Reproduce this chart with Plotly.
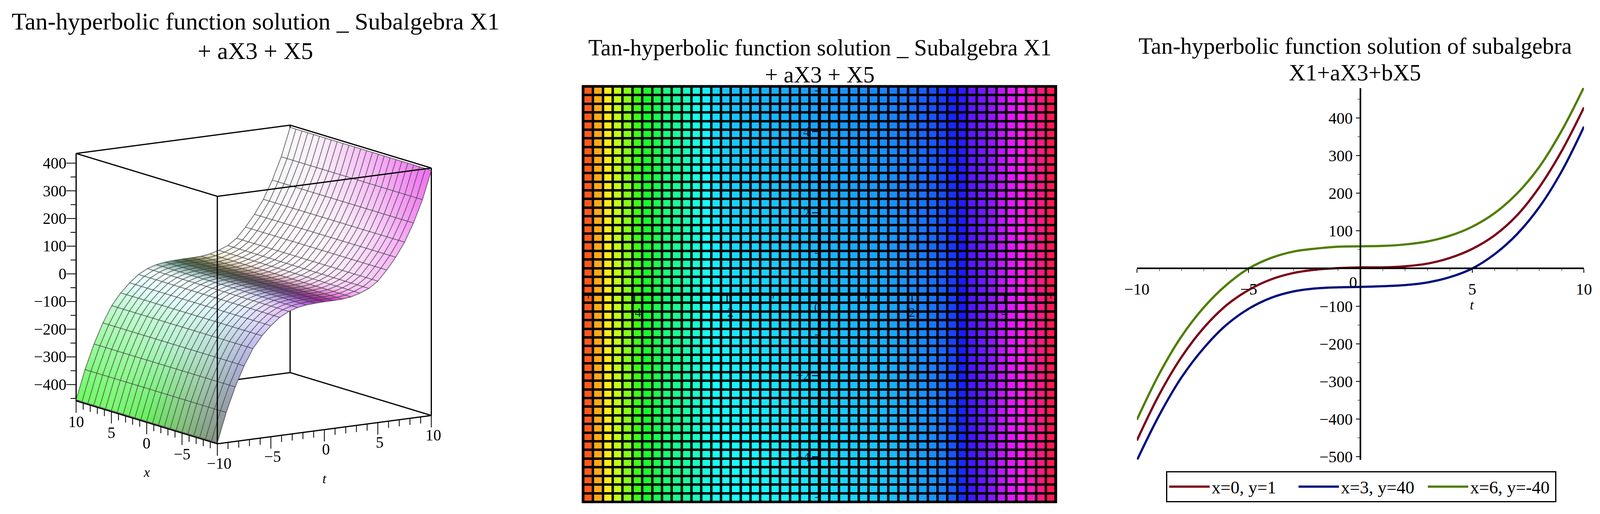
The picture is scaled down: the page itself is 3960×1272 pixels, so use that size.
import colorsys
import numpy as np
import plotly.graph_objects as go

W, H = 3960, 1272
SERIF = "Liberation Serif"

# ---------- right panel: curves ----------
t_curve = [-10,-9,-8,-7,-6,-5,-4,-3,-2,-1,0,1,2,3,4,5,6,7,8,9,10]
red_xy = [-457,-335,-235,-157,-98,-57,-29,-12,-3,1,3,3,6,13,28,52,88,141,216,312,428]
blue_xy = [-510,-390,-289,-211,-150,-107,-78,-61,-53,-50,-49,-47,-44,-37,-23,0,38,91,163,258,377]
green_xy = [-402,-280,-180,-103,-44,0,28,45,53,58,59,60,64,72,87,111,147,199,270,366,482]
legend_names = ["x=0, y=1", "x=3, y=40", "x=6, y=-40"]

# ---------- left panel: 25x25 surface, z depends on t only ----------
t_grid = [-10,-9.17,-8.33,-7.5,-6.67,-5.83,-5,-4.17,-3.33,-2.5,-1.67,-0.83,0,
          0.83,1.67,2.5,3.33,4.17,5,5.83,6.67,7.5,8.33,9.17,10]
x_grid = t_grid
z_profile = [-455,-350,-262,-190,-132,-90,-58,-32,-15,-5,0,2,3,3,4,8,17,30,52,88,130,180,245,325,427]
z_lo, z_hi = -459, 435

# colours read from the surface: rows by t, columns by x
col_t = [-10,-7.5,-5,-3.3,-2,-1,0,1,2,3.3,5,7.5,10]
col_x = [-10,-5,0,5,10]
col_table = [
 [(135,145,135),(130,190,120),(100,240,90),(120,250,110),(110,250,100)],
 [(175,175,222),(180,220,205),(185,242,210),(180,250,192),(175,250,185)],
 [(222,205,255),(220,238,255),(230,252,255),(230,255,255),(228,255,252)],
 [(235,190,255),(238,238,255),(245,253,255),(245,255,255),(245,255,255)],
 [(210,130,250),(190,190,240),(210,225,240),(170,210,210),(150,195,185)],
 [(170,70,210),(130,100,170),(100,110,120),(90,120,110),(90,130,110)],
 [(170,40,170),(110,60,130),(90,80,90),(90,100,60),(80,110,70)],
 [(210,60,190),(170,90,150),(150,110,120),(150,130,110),(130,140,90)],
 [(245,120,230),(240,170,220),(240,200,210),(240,220,200),(230,230,180)],
 [(250,190,250),(255,225,255),(255,245,255),(255,250,250),(255,250,240)],
 [(250,200,250),(255,232,255),(255,248,255),(255,252,252),(255,254,254)],
 [(248,170,248),(250,220,250),(253,240,253),(252,248,252),(250,250,250)],
 [(240,110,240),(245,150,245),(248,195,248),(250,235,250),(250,250,250)],
]

# ---------- centre panel: hue of each of the 48 columns, and how far it drifts top to bottom ----------
column_hue = [17,38,55,75,91,110,125,134,146,153,160,170,179,185,188,190,191,192,193,194,195,196,197,198,
              199,200,201,202,203,204,205,207,209,212,215,219,224,232,242,255,262,270,283,292,302,318,332,345]
drift_col = [0, 7, 14, 36, 42, 47]
drift_weight = [0, 0, 1, 1, 0, 0]
drift_bottom, drift_top = -11, 7
n_cells = len(column_hue)
mid_ticks = [-4,-2,2,4]
mid_minor = [-5,-3,-1,1,3,5]

EYE = (-0.5385, -0.816, 0.20)
EYE_NORM = 1.6
SCENE_ZOOM = 1.225
Z_STRETCH = 0.985
PAD_T, PAD_Z = 2.0, 50.0


def fx(px):
    return px / W

def fy(py):
    return 1 - py / H


fig = go.Figure()

# ---------- surface ----------
tt = np.array(t_grid)
xx = np.array(x_grid)
T, X = np.meshgrid(tt, xx, indexing="ij")
Z = np.tile(np.array(z_profile, float)[:, None], (1, len(xx)))
tab = np.array(col_table, float)
ax_t = np.arange(len(col_t))
ti = np.interp(tt, col_t, ax_t)
xi = np.interp(xx, col_x, np.arange(len(col_x)))
RGB = np.zeros((len(tt), len(xx), 3))
for c in range(3):
    by_t = np.array([np.interp(ti, ax_t, tab[:, q, c]) for q in range(len(col_x))]).T
    RGB[:, :, c] = np.array([np.interp(xi, np.arange(len(col_x)), r) for r in by_t])
vcol = ["rgb(%d,%d,%d)" % tuple(v) for v in RGB.reshape(-1, 3)]
nt, nx = len(tt), len(xx)
ii, jj, kk = [], [], []
for a in range(nt - 1):
    for b in range(nx - 1):
        p = a * nx + b
        ii += [p, p + 1]
        jj += [p + 1, p + nx + 1]
        kk += [p + nx, p + nx]
fig.add_trace(go.Mesh3d(
    x=T.ravel(), y=X.ravel(), z=Z.ravel(), i=ii, j=jj, k=kk, vertexcolor=vcol,
    lighting=dict(ambient=1, diffuse=0, specular=0, roughness=1, fresnel=0),
    flatshading=False, hoverinfo="skip", showscale=False, scene="scene"))


def wires(A, B, C):
    xs, ys, zs = [], [], []
    for r in range(A.shape[0]):
        xs += list(A[r]) + [None]
        ys += list(B[r]) + [None]
        zs += list(C[r]) + [None]
    return xs, ys, zs


# wires sit a hair in front of the mesh, towards the camera, so the depth test keeps them visible
eps = 0.02
dT, dX, dZ = EYE[0] * eps * 20, EYE[1] * eps * 20, EYE[2] * eps * (z_hi - z_lo)
for arrs in (wires(T + dT, X + dX, Z + dZ), wires((T + dT).T, (X + dX).T, (Z + dZ).T)):
    fig.add_trace(go.Scatter3d(
        x=arrs[0], y=arrs[1], z=arrs[2], mode="lines",
        line=dict(color="rgba(45,45,45,0.72)", width=4),
        hoverinfo="skip", showlegend=False, scene="scene"))

# bounding box: 12 edges
bx, by, bz = [], [], []
c_t, c_x, c_z = (-10, 10), (-10, 10), (z_lo, z_hi)
for a in c_t:
    for b in c_x:
        bx += [a, a, None]; by += [b, b, None]; bz += [c_z[0], c_z[1], None]
for a in c_t:
    for d in c_z:
        bx += [a, a, None]; by += [c_x[0], c_x[1], None]; bz += [d, d, None]
for b in c_x:
    for d in c_z:
        bx += [c_t[0], c_t[1], None]; by += [b, b, None]; bz += [d, d, None]
fig.add_trace(go.Scatter3d(x=bx, y=by, z=bz, mode="lines", line=dict(color="black", width=6),
                           hoverinfo="skip", showlegend=False, scene="scene"))

t_ticks = list(range(-10, 11))
t_major = [-10, -5, 0, 5, 10]
x_labels = [-5, 0, 5, 10]
z_ticks = list(range(-450, 401, 50))
z_major = [-400, -300, -200, -100, 0, 100, 200, 300, 400]

# tick marks: t and x ticks hang straight down from the bottom edges, z ticks run left on screen
kx, ky, kz = [], [], []
for v in t_ticks:
    drop = 43 if v in t_major else 24
    kx += [-10, -10, None, v, v, None]
    ky += [v, v, None, -10, -10, None]
    kz += [z_lo, z_lo - drop, None, z_lo, z_lo - drop, None]
for v in z_ticks:
    reach = 0.76 if v in z_major else 0.44
    kx += [-10, -10 - reach * 0.8347, None]
    ky += [10, 10 + reach * 0.5508, None]
    kz += [v, v, None]
fig.add_trace(go.Scatter3d(x=kx, y=ky, z=kz, mode="lines", line=dict(color="black", width=4),
                           hoverinfo="skip", showlegend=False, scene="scene"))

label3d = dict(family=SERIF, size=39, color="black")
minus = lambda v: str(v).replace("-", "\u2212")
ann3d = []
for v in z_major:
    ann3d.append(dict(x=-10, y=10, z=v, text=minus(v), showarrow=False, xanchor="right", xshift=-22, font=label3d))
for v in x_labels:
    ann3d.append(dict(x=-10, y=v, z=z_lo, text=minus(v), showarrow=False, yshift=-52, font=label3d))
for v in t_major:
    ann3d.append(dict(x=v, y=-10, z=z_lo, text=minus(v), showarrow=False, yshift=-49, xshift=4, font=label3d))
ann3d.append(dict(x=-10, y=0, z=z_lo, text="<i>x</i>", showarrow=False, yshift=-124, font=dict(family=SERIF, size=34)))
ann3d.append(dict(x=0, y=-10, z=z_lo, text="<i>t</i>", showarrow=False, yshift=-122, font=dict(family=SERIF, size=34)))

common = dict(showbackground=False, showgrid=False, zeroline=False, showline=False,
              showspikes=False, ticks="", showticklabels=False, title=dict(text=""))
asp_xy = SCENE_ZOOM * (20 + 2 * PAD_T) / 20
asp_z = SCENE_ZOOM * Z_STRETCH * (z_hi - z_lo + 2 * PAD_Z) / (z_hi - z_lo)
scene = dict(
    domain=dict(x=[fx(70), fx(1124)], y=[fy(1228), fy(180)]),
    aspectmode="manual", aspectratio=dict(x=asp_xy, y=asp_xy, z=asp_z),
    camera=dict(projection=dict(type="orthographic"),
                eye=dict(x=EYE[0] * EYE_NORM, y=EYE[1] * EYE_NORM, z=EYE[2] * EYE_NORM),
                center=dict(x=0, y=0, z=0), up=dict(x=0, y=0, z=1)),
    xaxis=dict(range=[-10 - PAD_T, 10 + PAD_T], **common),
    yaxis=dict(range=[-10 - PAD_T, 10 + PAD_T], **common),
    zaxis=dict(range=[z_lo - PAD_Z, z_hi + PAD_Z], **common),
    bgcolor="white", annotations=ann3d,
)

# ---------- centre heat map ----------
cols = np.arange(n_cells)
weight = np.interp(cols, drift_col, drift_weight)
row_frac = cols / (n_cells - 1)
hue = np.array(column_hue, float)[None, :] + (drift_bottom + (drift_top - drift_bottom) * row_frac)[:, None] * weight[None, :]
cs = []
for h in range(0, 361, 5):
    r, g, b = colorsys.hsv_to_rgb(h / 360, 0.9, 1.0)
    cs.append([h / 360, "rgb(%d,%d,%d)" % (r * 255, g * 255, b * 255)])
cell_x = -5 + 10 * cols / (n_cells - 1)
fig.add_trace(go.Heatmap(z=hue, x=cell_x, y=cell_x, colorscale=cs, zmin=0, zmax=360,
                         xgap=6, ygap=6, showscale=False, hoverinfo="skip", xaxis="x2", yaxis="y2"))

# ---------- right curves ----------
for vals, col, nm in zip((red_xy, blue_xy, green_xy), ("#7b0217", "#000f7d", "#4e7d00"), legend_names):
    fig.add_trace(go.Scatter(x=t_curve, y=vals, mode="lines", name=nm,
                             line=dict(color=col, width=5.5, shape="spline", smoothing=1.0),
                             xaxis="x3", yaxis="y3", hoverinfo="skip"))

R_L, R_R, R_T, R_B = 2811, 3932, 212, 1143
R_YTOP, R_YBOT = 480, -508
y0_px = R_T + (R_YTOP / (R_YTOP - R_YBOT)) * (R_B - R_T)
x0_px = (R_L + R_R) / 2
M_L, M_R, M_T, M_B = 1420, 2610, 206, 1251
mx0 = (M_L + M_R) / 2
my0 = (M_T + M_B) / 2
serif = lambda s: dict(family=SERIF, size=s, color="black")
mid_font = dict(family=SERIF, size=32, color="rgba(0,10,50,0.85)")


def line(text, x, y, size):
    return dict(text=text, xref="paper", yref="paper", x=fx(x), y=fy(y), showarrow=False,
                font=serif(size), xanchor="center", yanchor="middle")


mid_axis = dict(anchor="free", showgrid=False, zeroline=False, showline=True, linecolor="black", linewidth=8,
                range=[-5.13, 5.13], ticks="outside", ticklen=14, tickwidth=3, tickcolor="rgba(0,10,50,0.9)",
                tickvals=mid_ticks, tickfont=mid_font, fixedrange=True,
                minor=dict(tickmode="array", tickvals=mid_minor, ticks="outside", ticklen=7, tickwidth=2,
                           tickcolor="rgba(0,10,50,0.9)"))

fig.update_layout(
    width=W, height=H, margin=dict(l=0, r=0, t=0, b=0), paper_bgcolor="white", plot_bgcolor="white",
    autosize=False, scene=scene, font=dict(family=SERIF, color="black"),
    shapes=[dict(type="rect", xref="x2 domain", yref="y2 domain", x0=0, x1=1, y0=0, y1=1,
                 fillcolor="black", line=dict(color="black", width=2), layer="below")],
    xaxis2=dict(domain=[fx(M_L), fx(M_R)], position=fy(my0), **mid_axis),
    yaxis2=dict(domain=[fy(M_B), fy(M_T)], position=fx(mx0), **mid_axis),
    xaxis3=dict(domain=[fx(R_L), fx(R_R)], range=[-10, 10], anchor="free", position=fy(y0_px),
                showgrid=False, zeroline=False, showline=True, linecolor="black", linewidth=4,
                ticks="outside", ticklen=9, tickwidth=2, tickcolor="black", ticklabelstandoff=6,
                tickvals=[-10, -5, 0, 5, 10], ticktext=["\u221210", "\u22125", "", "5", "10"],
                tickfont=serif(40), fixedrange=True,
                minor=dict(tickmode="array", tickvals=list(range(-10, 11)), ticks="outside", ticklen=5,
                           tickwidth=1, tickcolor="black")),
    yaxis3=dict(domain=[fy(R_B), fy(R_T)], range=[R_YBOT, R_YTOP], anchor="free", position=fx(x0_px),
                showgrid=False, zeroline=False, showline=True, linecolor="black", linewidth=4,
                ticks="outside", ticklen=9, tickwidth=2, tickcolor="black",
                tickvals=[-500, -400, -300, -200, -100, 100, 200, 300, 400],
                tickfont=serif(40), fixedrange=True,
                minor=dict(tickmode="array", tickvals=list(range(-500, 451, 50)), ticks="outside", ticklen=5,
                           tickwidth=1, tickcolor="black")),
    showlegend=True,
    legend=dict(orientation="h", x=fx(2884), y=fy(1172), xanchor="left", yanchor="top",
                bordercolor="black", borderwidth=3, bgcolor="white", font=serif(44),
                itemwidth=100, tracegroupgap=0, entrywidth=205, entrywidthmode="pixels"),
    annotations=[
        line("Tan-hyperbolic function solution _ Subalgebra X1", 601, 46, 60),
        line("+ aX3 + X5", 601, 119, 60),
        line("Tan-hyperbolic function solution _ Subalgebra X1", 2016, 111, 57),
        line("+ aX3 + X5", 2016, 179, 57),
        line("Tan-hyperbolic function solution of subalgebra", 3358, 107, 57),
        line("X1+aX3+bX5", 3358, 174, 57),
        line("0", 3353, 699, 40),
        line("<i>t</i>", 3652, 755, 34),
        dict(text="0", xref="paper", yref="paper", x=fx(2010), y=fy(762), showarrow=False, font=mid_font, xanchor="center"),
    ],
)
for tr in fig.data:
    tr.showlegend = tr.type == "scatter"

fig.write_html("out.html", config=dict(displayModeBar=False))
